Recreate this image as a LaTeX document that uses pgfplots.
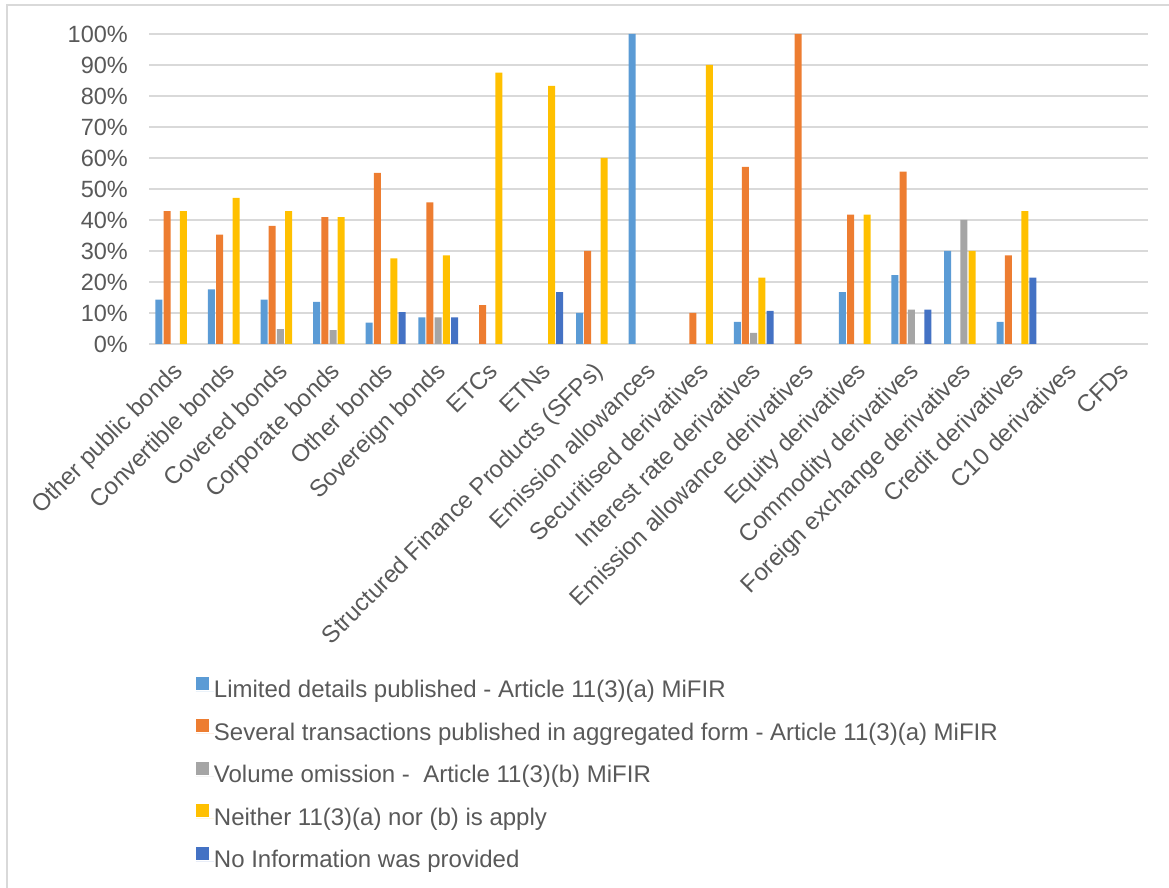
\documentclass[border=0pt]{standalone}
\usepackage{fontspec}
\setmainfont{Liberation Sans}
\usepackage{pgfplots}
\pgfplotsset{compat=1.18}
\definecolor{cA}{HTML}{5B9BD5}
\definecolor{cB}{HTML}{ED7D31}
\definecolor{cC}{HTML}{A5A5A5}
\definecolor{cD}{HTML}{FFC000}
\definecolor{cE}{HTML}{4472C4}
\definecolor{txt}{HTML}{595959}
\definecolor{gridc}{HTML}{D9D9D9}
\begin{document}
\begin{tikzpicture}
\useasboundingbox (0,0) rectangle (1169bp,888bp);
\draw[gridc, line width=1.3bp] (7bp,-10bp) -- (7bp,883bp) -- (1180bp,883bp);
\begin{axis}[
  at={(149bp,544bp)}, anchor=south west,
  scale only axis, width=999bp, height=310bp,
  ybar=1.2bp, bar width=7bp,
  xmin=-0.5, xmax=18.5, ymin=0, ymax=100,
  axis line style={draw=none},
  major tick length=0pt,
  xtick={0,...,18},
  xticklabels={Other public bonds,Convertible bonds,Covered bonds,Corporate bonds,Other bonds,Sovereign bonds,ETCs,ETNs,Structured Finance Products (SFPs),Emission allowances,Securitised derivatives,Interest rate derivatives,Emission allowance derivatives,Equity derivatives,Commodity derivatives,Foreign exchange derivatives,Credit derivatives,C10 derivatives,CFDs},
  ytick={0,10,...,100},
  yticklabels={0\%,10\%,20\%,30\%,40\%,50\%,60\%,70\%,80\%,90\%,100\%},
  ymajorgrids, major grid style={gridc, line width=1.1bp},
  xticklabel style={anchor=base east, inner sep=0pt, xshift=8.6bp, yshift=-28.4bp, rotate=45, font=\fontsize{24bp}{28bp}\selectfont, text=txt},
  yticklabel style={anchor=east, inner sep=0pt, xshift=-21bp, font=\fontsize{23.5bp}{28bp}\selectfont, text=txt},
  legend style={at={(0.047,-1.074)}, anchor=north west, draw=none, fill=none,
    inner sep=0pt, outer sep=0pt,
    font=\fontsize{24bp}{28bp}\selectfont, text=txt,
    nodes={inner sep=0pt, text height=18bp, text depth=5bp},
    row sep=16.5bp},
  legend cell align=left,
  legend image code/.code={\fill[#1] (0bp,1.5bp) rectangle (13bp,14.5bp); \path (0bp,0bp) -- (18bp,0bp);},
  every axis plot/.append style={draw=none},
]
\addplot[fill=cA] coordinates {(0,14.3) (1,17.6) (2,14.3) (3,13.6) (4,6.9) (5,8.6) (8,10) (9,100) (11,7.1) (13,16.7) (14,22.2) (15,30) (16,7.1)};
\addplot[fill=cB] coordinates {(0,42.9) (1,35.3) (2,38.1) (3,40.9) (4,55.2) (5,45.7) (6,12.5) (8,30) (10,10) (11,57.1) (12,100) (13,41.7) (14,55.6) (16,28.6)};
\addplot[fill=cC] coordinates {(2,4.8) (3,4.5) (5,8.6) (11,3.6) (14,11.1) (15,40)};
\addplot[fill=cD] coordinates {(0,42.9) (1,47.1) (2,42.9) (3,40.9) (4,27.6) (5,28.6) (6,87.5) (7,83.3) (8,60) (10,90) (11,21.4) (13,41.7) (15,30) (16,42.9)};
\addplot[fill=cE] coordinates {(4,10.3) (5,8.6) (7,16.7) (11,10.7) (14,11.1) (16,21.4)};
\legend{Limited details published - Article 11(3)(a) MiFIR,Several transactions published in aggregated form - Article 11(3)(a) MiFIR,Volume omission - \ Article 11(3)(b) MiFIR,Neither 11(3)(a) nor (b) is apply,No Information was provided}
\end{axis}
\end{tikzpicture}
\end{document}
